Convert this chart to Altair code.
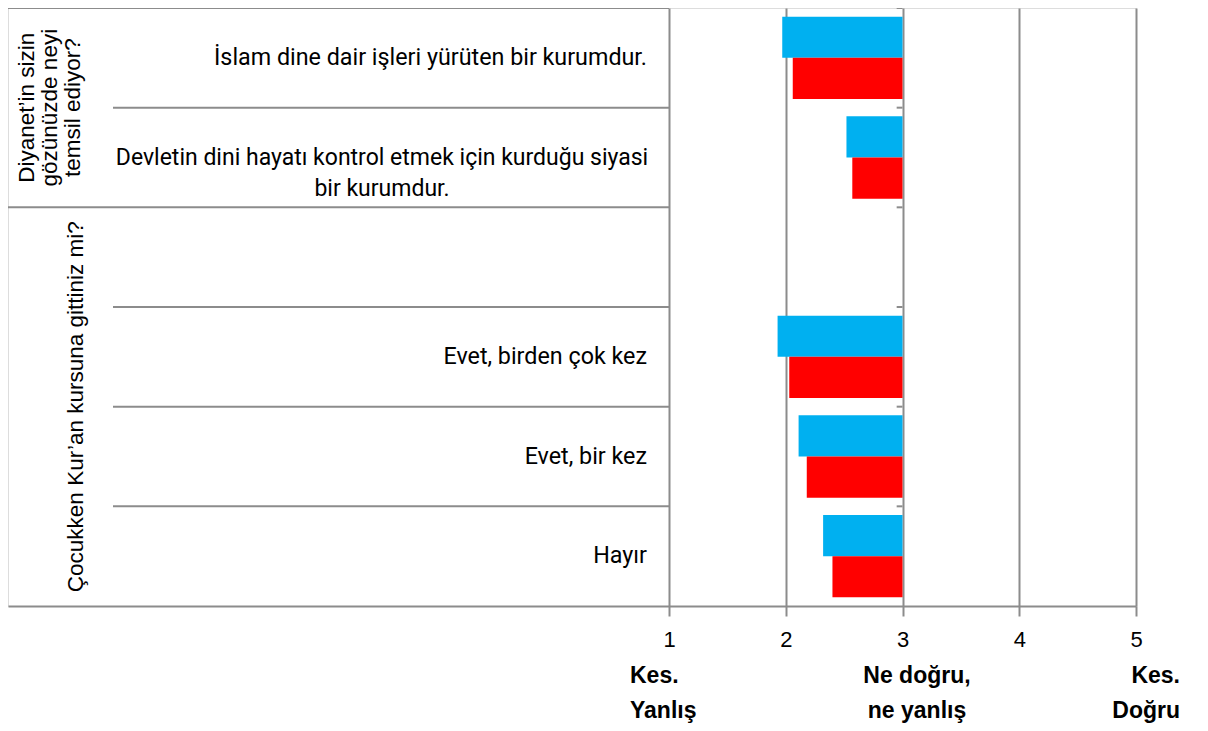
import altair as alt
import pandas as pd

# ---------------- data ----------------
row_labels = [
    "İslam dine dair işleri yürüten bir kurumdur.",
    "Devletin dini hayatı kontrol etmek için kurduğu siyasi\nbir kurumdur.",
    "",
    "Evet, birden çok kez",
    "Evet, bir kez",
    "Hayır",
]
series_names = ["Seri 1", "Seri 2"]
series_colors = ["#00B0F0", "#FF0000"]
blue_vals = [1.97, 2.52, None, 1.93, 2.11, 2.32]
red_vals = [2.06, 2.57, None, 2.03, 2.18, 2.40]

group_labels = [
    "Diyanet’in sizin\ngözünüzde neyi\ntemsil ediyor?",
    "Çocukken Kur’an kursuna gittiniz mi?",
]
group_start = [0, 2]
group_end = [1, 5]

tick_values = [1, 2, 3, 4, 5]
scale_left = "Kes.\nYanlış"
scale_mid = "Ne doğru,\nne yanlış"
scale_right = "Kes.\nDoğru"
ref_value = 3

# ---------------- tables ----------------
rows = list(range(len(row_labels)))
bars = []
for i in rows:
    for s, vals in zip(series_names, [blue_vals, red_vals]):
        if vals[i] is not None:
            bars.append({"row": i, "series": s, "value": vals[i]})
bars_df = pd.DataFrame(bars)
labels_df = pd.DataFrame({"row": rows, "label": row_labels})
groups_df = pd.DataFrame({
    "gid": list(range(len(group_labels))),
    "label": group_labels,
    "start": group_start,
    "end": group_end,
})
groups_df["mid"] = (groups_df["start"] + groups_df["end"] + 1) // 2
item_lines_df = pd.DataFrame({"row": [r for r in rows if r not in group_start]})
group_lines_df = pd.DataFrame({"row": group_start})
rows_df = pd.DataFrame({"row": rows})

# ---------------- styling ----------------
W, H = 1128, 598
GRAY = "#8c8c8c"
LABELFONT = "Roboto, Liberation Sans, sans-serif"
SANS = "Liberation Sans, Arial, sans-serif"

xscale = alt.Scale(domain=[-4.6617, 5], nice=False, zero=False)
yscale = alt.Scale(domain=rows, paddingInner=0, paddingOuter=0)
xaxis = alt.Axis(values=tick_values, grid=True, gridColor=GRAY, gridWidth=2,
                 domainColor=GRAY, domainWidth=2, tickColor=GRAY, tickWidth=2,
                 tickSize=10, labelFontSize=22, labelFont=SANS, labelColor="#000000",
                 labelPadding=13, labelFlush=False, title=None, format="d")

bar_layer = alt.Chart(bars_df).mark_bar().encode(
    x=alt.X("value:Q", scale=xscale, axis=xaxis),
    x2=alt.datum(ref_value),
    y=alt.Y("row:O", scale=yscale, axis=None),
    yOffset=alt.YOffset("series:N", scale=alt.Scale(domain=series_names, paddingInner=0, paddingOuter=0.21)),
    color=alt.Color("series:N", scale=alt.Scale(domain=series_names, range=series_colors), legend=None),
)

item_lines = alt.Chart(item_lines_df).mark_rule(color=GRAY, strokeWidth=2).encode(
    x=alt.value(105), x2=alt.value(661),
    y=alt.Y("row:O", bandPosition=0, scale=yscale, axis=None),
)
group_lines = alt.Chart(group_lines_df).mark_rule(color=GRAY, strokeWidth=2).encode(
    x=alt.value(0), x2=alt.value(661),
    y=alt.Y("row:O", bandPosition=0, scale=yscale, axis=None),
)
ytick_layer = alt.Chart(rows_df).mark_rule(color=GRAY, strokeWidth=2).encode(
    x=alt.datum(ref_value - 0.05), x2=alt.datum(ref_value),
    y=alt.Y("row:O", bandPosition=0, scale=yscale, axis=None),
)

single_labels = alt.Chart(labels_df).transform_filter(
    "datum.label != '' && indexof(datum.label, '\\n') < 0"
).mark_text(align="right", baseline="middle", font=LABELFONT, fontSize=23.3, color="#000000").encode(
    x=alt.value(639),
    y=alt.Y("row:O", scale=yscale, axis=None),
    text="label:N",
)
multi_labels = alt.Chart(labels_df).transform_filter(
    "indexof(datum.label, '\\n') >= 0"
).mark_text(align="center", baseline="middle", font=LABELFONT, fontSize=23, color="#000000",
            lineBreak="\n", lineHeight=31).encode(
    x=alt.value(374),
    y=alt.Y("row:O", scale=yscale, axis=None),
    text="label:N",
)

g1 = alt.Chart(groups_df).transform_filter("datum.gid == 0").mark_text(
    align="center", baseline="middle", angle=270, font=SANS, fontSize=22.5,
    lineBreak="\n", lineHeight=23, color="#000000").encode(
    x=alt.value(19),
    y=alt.Y("mid:O", bandPosition=0, scale=yscale, axis=None),
    text="label:N",
)
g2 = alt.Chart(groups_df).transform_filter("datum.gid == 1").mark_text(
    align="center", baseline="middle", angle=270, font=SANS, fontSize=22.5,
    color="#000000").encode(
    x=alt.value(68),
    y=alt.Y("mid:O", bandPosition=0, scale=yscale, axis=None),
    text="label:N",
)

def scale_text(txt, xpx, align):
    return alt.Chart(pd.DataFrame({"t": [txt]})).mark_text(
        align=align, baseline="alphabetic", font=SANS, fontSize=23, fontWeight="bold",
        lineBreak="\n", lineHeight=35, color="#000000").encode(
        x=alt.value(xpx), y=alt.value(675), text="t:N")

chart = alt.layer(
    item_lines, group_lines, bar_layer, ytick_layer,
    single_labels, multi_labels, g1, g2,
    scale_text(scale_left, 622, "left"),
    scale_text(scale_mid, 909, "center"),
    scale_text(scale_right, 1172, "right"),
).properties(
    width=W, height=H,
    autosize=alt.AutoSizeParams(type="none"),
    padding={"left": 0, "top": 0, "right": 56, "bottom": 117},
).configure_view(stroke=None).configure(background="white")

chart.save("out.html", embed_options={"renderer": "svg", "actions": False})
